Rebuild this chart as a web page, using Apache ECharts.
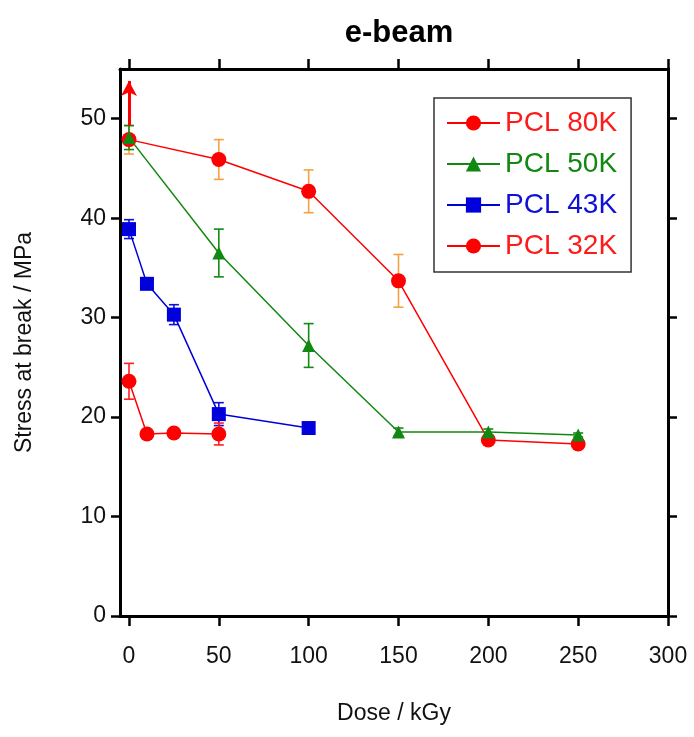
<!DOCTYPE html>
<html>
<head>
<meta charset="utf-8">
<script src="https://cdn.jsdelivr.net/npm/echarts@6/dist/echarts.min.js"></script>
<style>
  html, body { margin: 0; padding: 0; background: #fff; }
  #chart { width: 694px; height: 737px; }
</style>
</head>
<body>
<div id="chart"></div>
<script>
// values
var dose80 = [0, 50, 100, 150, 200, 250];
var stress80 = [47.9, 45.9, 42.7, 33.7, 17.7, 17.3];
var err80 = [1.45, 2.0, 2.15, 2.65, 0, 0];

var dose50 = [0, 50, 100, 150, 200, 250];
var stress50 = [48.1, 36.5, 27.2, 18.5, 18.5, 18.2];
var err50 = [1.2, 2.4, 2.2, 0.4, 0.3, 0.2];

var dose43 = [0, 10, 25, 50, 100];
var stress43 = [38.9, 33.4, 30.3, 20.3, 18.9];
var err43 = [0.95, 0.3, 1.0, 1.15, 0.3];

var dose32 = [0, 10, 25, 50];
var stress32 = [23.6, 18.3, 18.4, 18.3];
var err32 = [1.8, 0, 0, 1.1];

// red arrow above the first 80K point
var arrowX = 0;
var arrowFrom = 49.3;
var arrowTo = 53.8;

var xTicks = [0, 50, 100, 150, 200, 250, 300];
var yTicks = [0, 10, 20, 30, 40, 50];

var FONT = 'Arial, "Liberation Sans", sans-serif';

function pairs(xs, ys) {
    var out = [];
    for (var i = 0; i < xs.length; i = i + 1) {
        out.push([xs[i], ys[i]]);
    }
    return out;
}
function triples(xs, ys, es) {
    var out = [];
    for (var i = 0; i < xs.length; i = i + 1) {
        out.push([xs[i], ys[i], es[i]]);
    }
    return out;
}

function errorBars(data, color) {
    return {
        type: 'custom',
        xAxisIndex: 0,
        yAxisIndex: 0,
        z: 1,
        silent: true,
        data: data,
        renderItem: function (params, api) {
            var x = api.value(0), y = api.value(1), e = api.value(2);
            if (!e) {
                return;
            }
            var hi = api.coord([x, y + e]);
            var lo = api.coord([x, y - e]);
            var cap = 5;
            var st = {stroke: color, lineWidth: 1.6};
            return {
                type: 'group',
                children: [
                    {type: 'line', shape: {x1: hi[0], y1: hi[1], x2: lo[0], y2: lo[1]}, style: st},
                    {type: 'line', shape: {x1: hi[0] - cap, y1: hi[1], x2: hi[0] + cap, y2: hi[1]}, style: st},
                    {type: 'line', shape: {x1: lo[0] - cap, y1: lo[1], x2: lo[0] + cap, y2: lo[1]}, style: st}
                ]
            };
        }
    };
}

function lineSeries(name, data, color, symbol, size) {
    return {
        name: name,
        type: 'line',
        data: data,
        symbol: symbol,
        symbolSize: size,
        z: 3,
        itemStyle: {color: color},
        lineStyle: {color: color, width: 1.5}
    };
}

var axisLine = {show: true, onZero: false, lineStyle: {color: '#000', width: 3}};
var tickStyle = {lineStyle: {color: '#000', width: 2.5}};

var s80 = lineSeries('PCL 80K', pairs(dose80, stress80), '#ff0000', 'circle', 15);
s80.markLine = {
    silent: true,
    symbol: ['none', 'arrow'],
    symbolSize: [12, 15],
    label: {show: false},
    lineStyle: {color: '#ff0000', width: 3, type: 'solid'},
    data: [[{coord: [arrowX, arrowFrom]}, {coord: [arrowX, arrowTo]}]]
};

var chart = echarts.init(document.getElementById('chart'));
chart.setOption({
    animation: false,
    backgroundColor: '#fff',
    title: {
        text: 'e-beam',
        left: 394,
        textAlign: 'center',
        top: 13,
        textStyle: {fontFamily: FONT, fontWeight: 'bold', fontSize: 31, color: '#000'}
    },
    grid: {left: 120, right: 26, top: 69, bottom: 121},
    legend: {
        left: 434,
        top: 98,
        orient: 'vertical',
        itemWidth: 53,
        itemHeight: 19,
        itemGap: 13,
        padding: [11, 14, 12, 12],
        borderColor: '#333',
        borderWidth: 1.5,
        backgroundColor: '#fff',
        textStyle: {fontFamily: FONT, fontSize: 28, lineHeight: 28, padding: [0, 0, 0, 0]},
        data: [
            {name: 'PCL 80K', textStyle: {color: '#ff1a1a'}},
            {name: 'PCL 50K', textStyle: {color: '#118811'}},
            {name: 'PCL 43K', textStyle: {color: '#1010d8'}},
            {name: 'PCL 32K', textStyle: {color: '#ff1a1a'}}
        ]
    },
    xAxis: [{
        type: 'value',
        min: -5,
        max: 300,
        name: 'Dose / kGy',
        nameLocation: 'middle',
        nameGap: 86,
        nameTextStyle: {fontFamily: FONT, fontSize: 23, color: '#111'},
        axisLine: axisLine,
        axisTick: {show: true, inside: false, length: 10, customValues: xTicks, lineStyle: tickStyle.lineStyle},
        axisLabel: {show: true, margin: 29, customValues: xTicks, fontFamily: FONT, fontSize: 23, color: '#111'},
        splitLine: {show: false}
    }, {
        type: 'value',
        position: 'top',
        min: -5,
        max: 300,
        axisLine: axisLine,
        axisTick: {show: true, inside: false, length: 10, customValues: xTicks, lineStyle: tickStyle.lineStyle},
        axisLabel: {show: false},
        splitLine: {show: false}
    }],
    yAxis: [{
        type: 'value',
        min: 0,
        max: 55,
        name: 'Stress at break / MPa',
        nameLocation: 'middle',
        nameGap: 84,
        nameTextStyle: {fontFamily: FONT, fontSize: 23, color: '#111'},
        axisLine: axisLine,
        axisTick: {show: true, inside: false, length: 9, customValues: yTicks, lineStyle: tickStyle.lineStyle},
        axisLabel: {show: true, margin: 14, customValues: yTicks, fontFamily: FONT, fontSize: 23, color: '#111'},
        splitLine: {show: false}
    }, {
        type: 'value',
        position: 'right',
        min: 0,
        max: 55,
        axisLine: axisLine,
        axisTick: {show: true, inside: false, length: 9, customValues: yTicks, lineStyle: tickStyle.lineStyle},
        axisLabel: {show: false},
        splitLine: {show: false}
    }],
    series: [
        errorBars(triples(dose80, stress80, err80), '#f5a142'),
        errorBars(triples(dose50, stress50, err50), '#138a13'),
        errorBars(triples(dose43, stress43, err43), '#1010d8'),
        errorBars(triples(dose32, stress32, err32), '#ff2020'),
        lineSeries('PCL 32K', pairs(dose32, stress32), '#ff0000', 'circle', 15),
        lineSeries('PCL 43K', pairs(dose43, stress43), '#0000dd', 'rect', 14),
        s80,
        lineSeries('PCL 50K', pairs(dose50, stress50), '#118811', 'triangle', 13)
    ]
});
</script>
</body>
</html>
